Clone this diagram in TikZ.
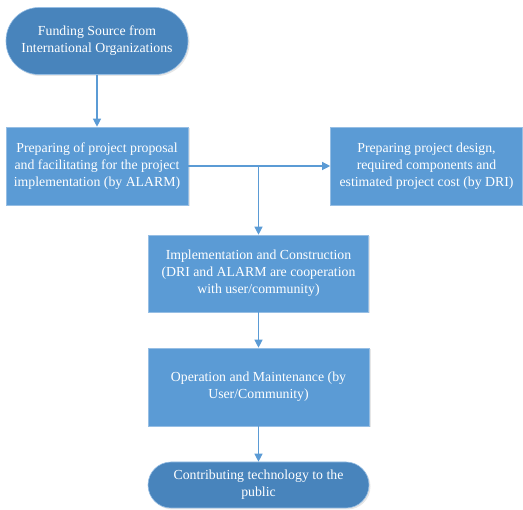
\documentclass[tikz,border=0pt]{standalone}
\usepackage{fontspec}
\setmainfont{Liberation Serif}
\usetikzlibrary{arrows.meta,shadows}
\definecolor{boxblue}{RGB}{91,155,213}
\definecolor{endblue}{RGB}{72,132,188}
\definecolor{rimblue}{RGB}{150,190,228}

\begin{document}
\begin{tikzpicture}[x=1pt,y=-1pt,
  every node/.style={font=\fontsize{13.8}{17}\selectfont, text=white, align=center, inner sep=2pt},
  stepbox/.style={rectangle, fill=boxblue, draw=rimblue, line width=0.6pt,
    drop shadow={opacity=0.2, shadow xshift=1.5pt, shadow yshift=-1.5pt}},
  endbox/.style={rectangle, fill=endblue, draw=rimblue, line width=0.6pt,
    drop shadow={opacity=0.2, shadow xshift=1.5pt, shadow yshift=-1.5pt}},
  flow/.style={draw=boxblue, line width=1.2pt, -{Triangle[length=8pt,width=8pt]}}]
\useasboundingbox (0,0) rectangle (523,510);
% terminals and steps
\node[endbox, rounded corners=33pt, minimum width=182pt, minimum height=67pt] (fund) at (97,41)
  {Funding Source from\\International Organizations};
\node[stepbox, minimum width=182pt, minimum height=78pt] (prop) at (97,166)
  {Preparing of project proposal\\and facilitating for the project\\implementation (by ALARM)};
\node[stepbox, minimum width=192pt, minimum height=78pt] (design) at (426.5,166)
  {Preparing project design,\\required components and\\estimated project cost (by DRI)};
\node[stepbox, minimum width=220pt, minimum height=77pt] (impl) at (258.5,273.5)
  {Implementation and Construction\\(DRI and ALARM are cooperation\\with user/community)};
\node[stepbox, minimum width=221pt, minimum height=78pt] (oper) at (258.5,387)
  {Operation and Maintenance (by\\User/Community)};
\node[endbox, rounded corners=23pt, minimum width=221pt, minimum height=46pt] (pub) at (258.5,485)
  {Contributing technology to the\\public};
% connectors
\draw[flow] (fund) -- (prop);
\draw[flow] (prop) -- (design);
\draw[flow] (impl.north |- prop.east) -- (impl);
\draw[flow] (impl) -- (oper);
\draw[flow] (oper) -- (pub);
\end{tikzpicture}
\end{document}
